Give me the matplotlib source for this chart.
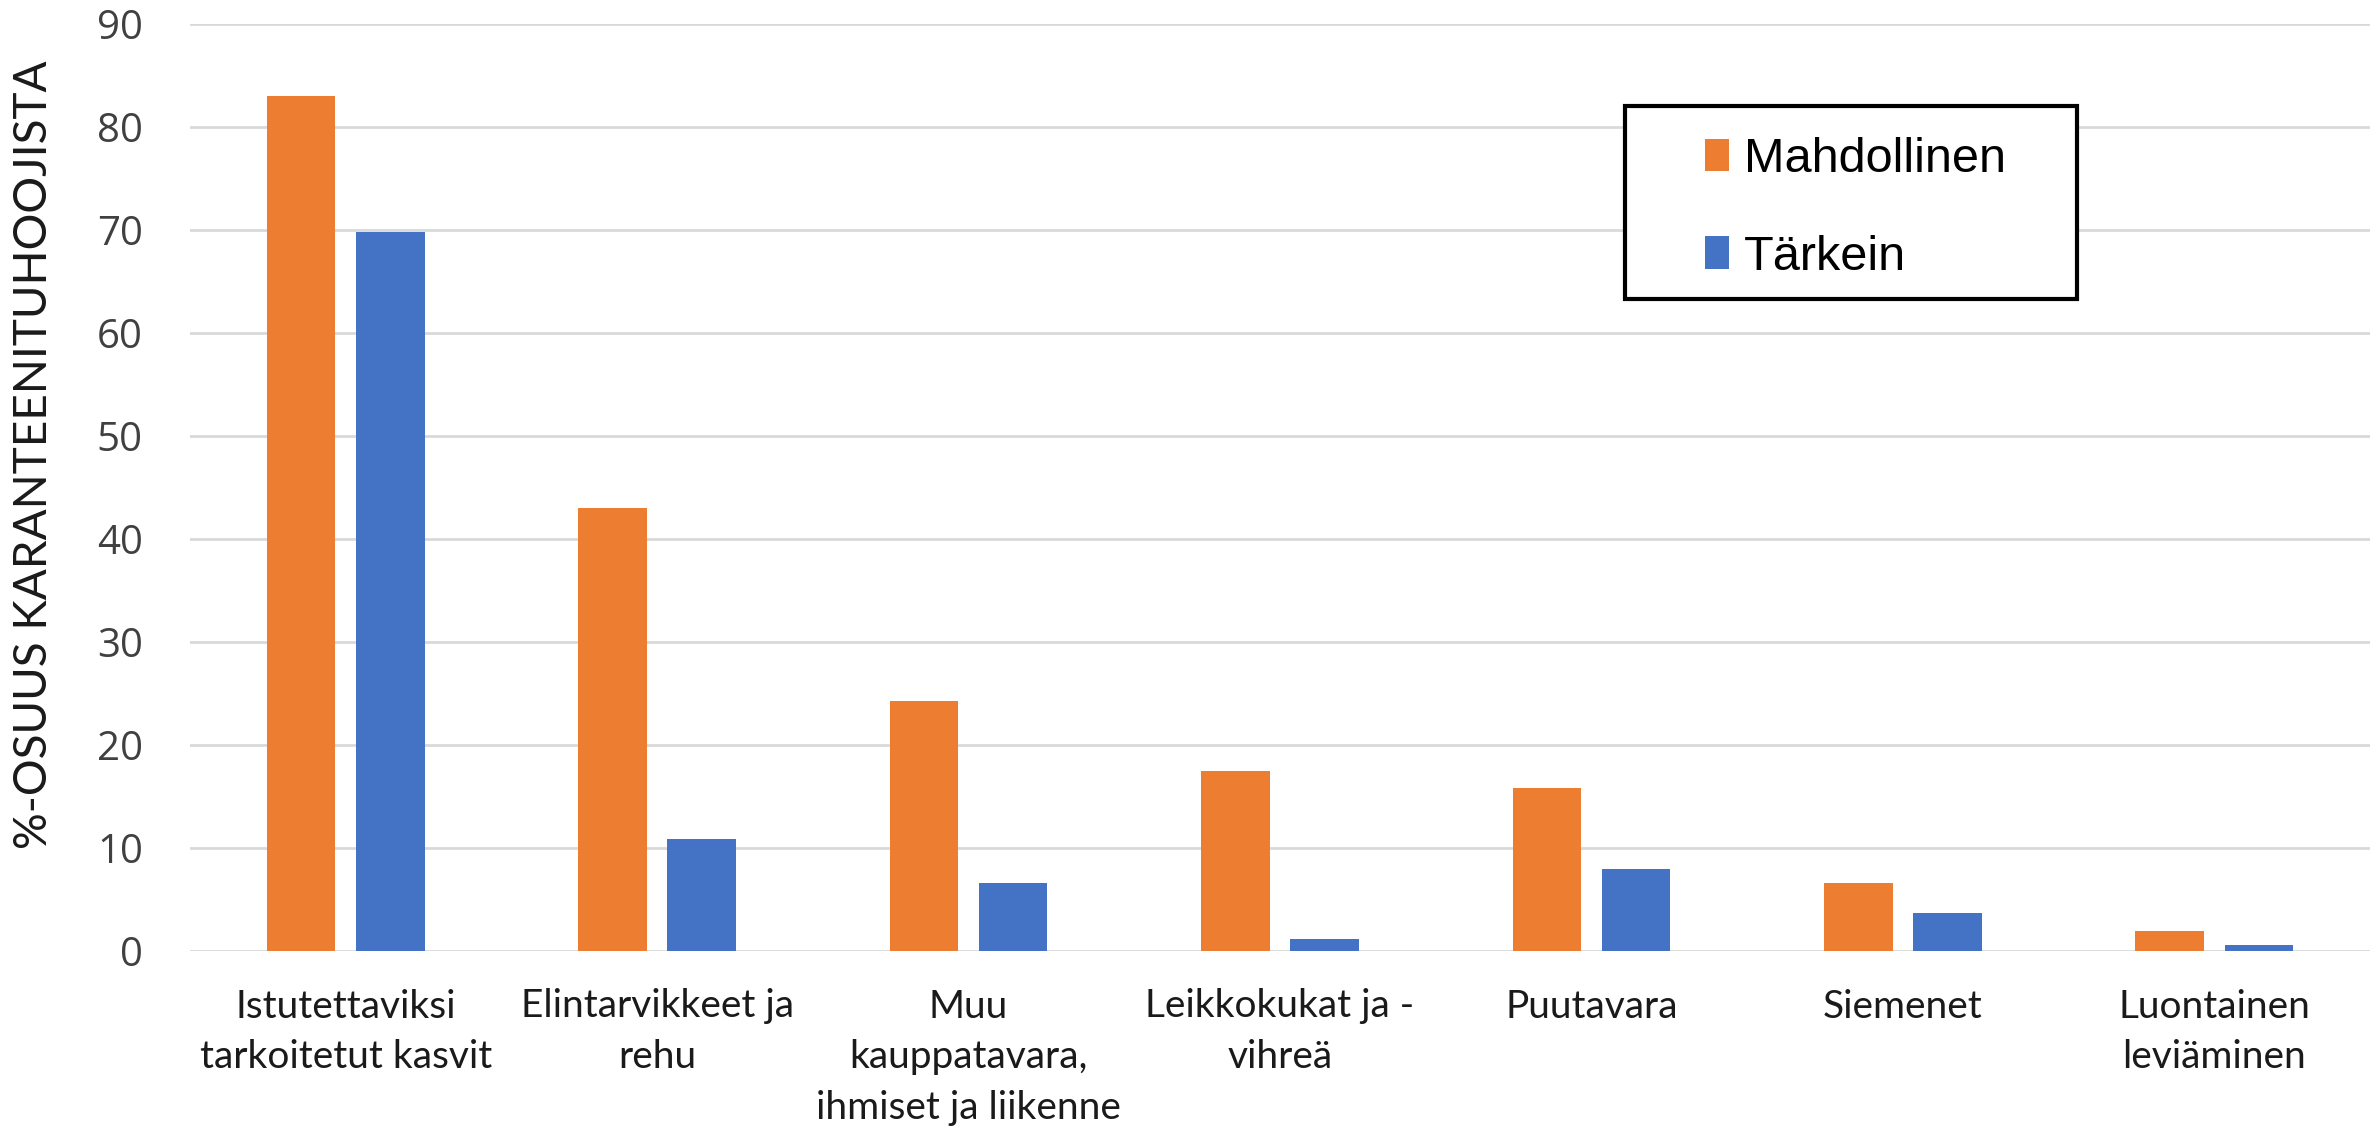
import matplotlib
matplotlib.use("Agg")
import matplotlib.pyplot as plt
from matplotlib.patches import Rectangle
import numpy as np

categories = ["Istutettaviksi\ntarkoitetut kasvit", "Elintarvikkeet ja\nrehu",
              "Muu\nkauppatavara,\nihmiset ja liikenne", "Leikkokukat ja -\nvihreä",
              "Puutavara", "Siemenet", "Luontainen\nleviäminen"]
mahdollinen = [83.0, 43.0, 24.3, 17.5, 15.8, 6.6, 1.9]
tarkein = [69.8, 10.9, 6.6, 1.2, 8.0, 3.7, 0.6]
series_names = ["Mahdollinen", "Tärkein"]
yticks = list(range(0, 100, 10))

W, H, DPI = 2379, 1127, 100
fig = plt.figure(figsize=(W / DPI, H / DPI), dpi=DPI)
ax = fig.add_axes([190 / W, 1 - 951 / H, (2370 - 190) / W, (951 - 24) / H])

x = np.arange(len(categories))
bw = 0.22
off = 0.143
ax.bar(x - off, mahdollinen, bw, color="#ED7D31", label=series_names[0], zorder=3)
ax.bar(x + off, tarkein, bw, color="#4472C4", label=series_names[1], zorder=3)

ax.set_xlim(-0.5, len(categories) - 0.5)
ax.set_ylim(0, 90)
ax.set_yticks(yticks)
ax.yaxis.grid(True, color="#d9d9d9", linewidth=2, zorder=0)
for s in ax.spines.values():
    s.set_visible(False)
ax.tick_params(axis="both", length=0)
ax.tick_params(axis="y", pad=34)
ax.tick_params(axis="x", pad=27)
for lab in ax.get_yticklabels():
    lab.set_fontfamily("Open Sans")
    lab.set_fontsize(29)
    lab.set_color("#404040")

ax.set_xticks(x)
ax.set_xticklabels(categories, fontfamily=["Lato", "DejaVu Sans"],
                   fontsize=28, color="#1a1a1a", linespacing=1.5)

ax.set_ylabel("%-OSUUS KARANTEENITUHOOJISTA", fontfamily=["Lato", "DejaVu Sans"],
              fontsize=33, color="#1a1a1a")
ax.yaxis.set_label_coords(-0.062, 0.535)

# legend box
bx0, by0, bx1, by1 = 1625, 106, 2077, 299
fig.patches.append(Rectangle((bx0 / W, 1 - by1 / H), (bx1 - bx0) / W, (by1 - by0) / H,
                             transform=fig.transFigure, facecolor="white", edgecolor="black",
                             linewidth=3, zorder=5))
leg = fig.legend(loc="upper left", bbox_to_anchor=(1705 / W, 1 - 137 / H),
                 frameon=False, prop={"family": "Liberation Sans", "size": 35},
                 handlelength=0.5, handleheight=0.65, handletextpad=0.3, labelspacing=1.08,
                 borderpad=0, borderaxespad=0)
leg.set_zorder(6)
for t in leg.get_texts():
    t.set_color("#000000")

fig.savefig("out.png", dpi=DPI, facecolor="white")
